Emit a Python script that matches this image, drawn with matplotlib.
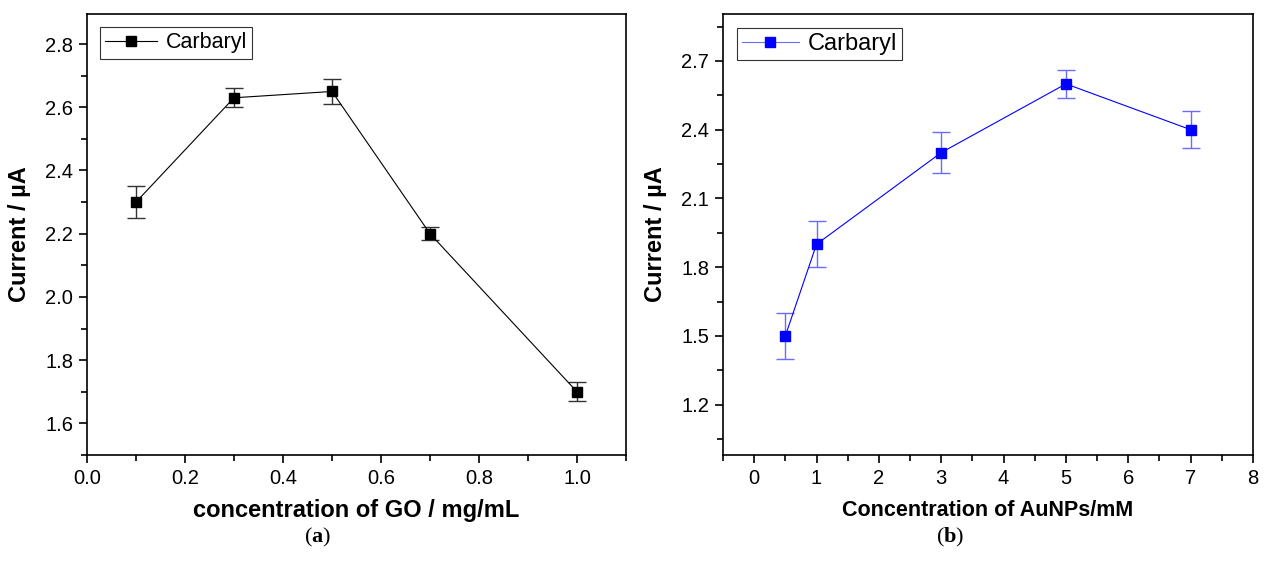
import matplotlib.pyplot as plt
from matplotlib.ticker import MultipleLocator

plt.rcParams['font.family'] = ['Liberation Sans', 'DejaVu Sans']
plt.rcParams['mathtext.fontset'] = 'custom'
plt.rcParams['mathtext.rm'] = 'Liberation Serif'
plt.rcParams['mathtext.bf'] = 'Liberation Serif:bold'

# (a) GO concentration
go_conc = [0.1, 0.3, 0.5, 0.7, 1.0]
go_current = [2.30, 2.63, 2.65, 2.20, 1.70]
go_err = [0.05, 0.03, 0.04, 0.02, 0.03]

# (b) AuNPs concentration
au_conc = [0.5, 1, 3, 5, 7]
au_current = [1.50, 1.90, 2.30, 2.60, 2.40]
au_err = [0.10, 0.10, 0.09, 0.06, 0.08]

W, H = 1266, 567
fig = plt.figure(figsize=(W / 100, H / 100), dpi=100)
ax1 = fig.add_axes([87 / W, (H - 455) / H, (626 - 87) / W, (455 - 14) / H])
ax2 = fig.add_axes([723 / W, (H - 455) / H, (1253 - 723) / W, (455 - 14) / H])


def style_axis(ax):
    for s in ax.spines.values():
        s.set_linewidth(1.2)
    ax.tick_params(which='both', direction='out', top=False, right=False,
                   width=1.2, labelsize=14.5, pad=4)
    ax.tick_params(which='major', length=6)
    ax.tick_params(which='minor', length=4)


# left panel
ax1.errorbar(go_conc, go_current, yerr=go_err, fmt='none', ecolor='#333333',
             elinewidth=1.0, capsize=6.5, capthick=1.0)
ax1.plot(go_conc, go_current, color='black', marker='s', markersize=7.5,
         linewidth=0.8, label='Carbaryl')
ax1.set_xlim(0, 1.1)
ax1.set_ylim(1.5, 2.895)
ax1.xaxis.set_minor_locator(MultipleLocator(0.1))
ax1.yaxis.set_major_locator(MultipleLocator(0.2))
ax1.yaxis.set_minor_locator(MultipleLocator(0.1))
ax1.set_xticks([0.0, 0.2, 0.4, 0.6, 0.8, 1.0])
ax1.set_xticklabels(['0.0', '0.2', '0.4', '0.6', '0.8', '1.0'])
style_axis(ax1)
ax1.set_xlabel('concentration of GO / mg/mL', fontsize=17, fontweight='bold', labelpad=8)
ax1.set_ylabel('Current / µA', fontsize=17, fontweight='bold', labelpad=10)
leg1 = ax1.legend(loc='upper left', fontsize=15.5, frameon=True, fancybox=False,
                  edgecolor='black', handlelength=2.4, borderpad=0.25,
                  borderaxespad=0.6, handletextpad=0.4)
leg1.get_frame().set_linewidth(0.8)

# right panel
ax2.errorbar(au_conc, au_current, yerr=au_err, fmt='none', ecolor='#6b6bff',
             elinewidth=1.0, capsize=6.5, capthick=1.0)
ax2.plot(au_conc, au_current, color='#0000ff', marker='s', markersize=7.5,
         linewidth=0.8, label='Carbaryl')
ax2.set_xlim(-0.5, 8)
ax2.set_ylim(0.98, 2.905)
ax2.xaxis.set_major_locator(MultipleLocator(1))
ax2.xaxis.set_minor_locator(MultipleLocator(0.5))
ax2.set_yticks([1.2, 1.5, 1.8, 2.1, 2.4, 2.7])
ax2.set_yticks([1.05, 1.35, 1.65, 1.95, 2.25, 2.55, 2.85], minor=True)
style_axis(ax2)
ax2.set_xlabel('Concentration of AuNPs/mM', fontsize=15.5, fontweight='bold', labelpad=9)
ax2.set_ylabel('Current / µA', fontsize=17, fontweight='bold', labelpad=10)
leg2 = ax2.legend(loc='upper left', fontsize=17, frameon=True, fancybox=False,
                  edgecolor='black', handlelength=2.4, borderpad=0.2,
                  borderaxespad=0.6, handletextpad=0.4)
leg2.get_frame().set_linewidth(0.8)
leg2.get_lines()[0].set_color('#6b6bff')
leg2.get_lines()[0].set_markerfacecolor('#0000ff')
leg2.get_lines()[0].set_markeredgecolor('#0000ff')

fig.text(318 / W, 1 - 537 / H, r'$\mathrm{(}\mathbf{a}\mathrm{)}$', fontsize=16,
         ha='center', va='center')
fig.text(950 / W, 1 - 537 / H, r'$\mathrm{(}\mathbf{b}\mathrm{)}$', fontsize=16,
         ha='center', va='center')

fig.savefig('out.png', dpi=100)
